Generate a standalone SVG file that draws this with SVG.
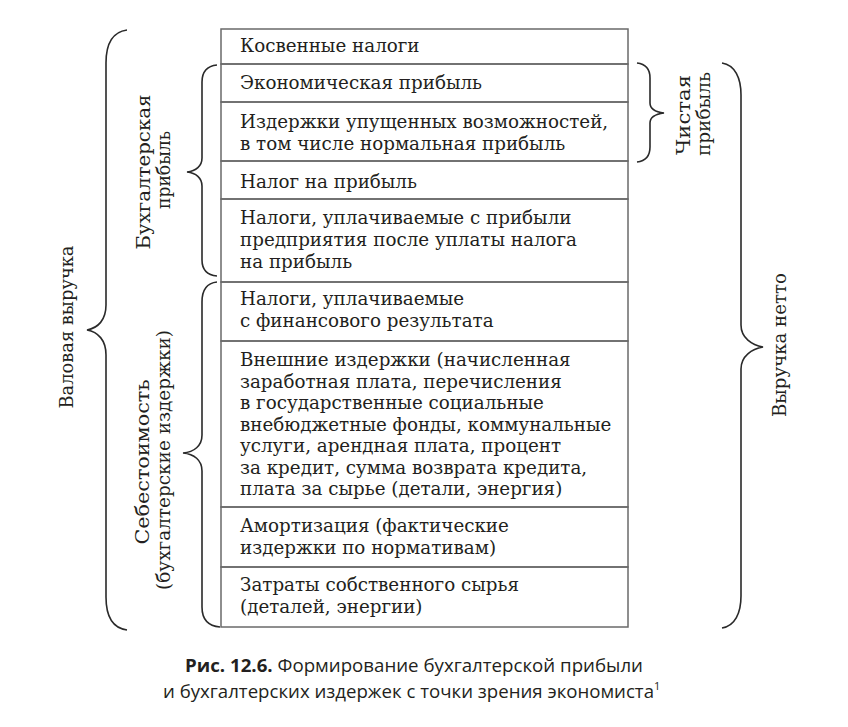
<svg xmlns="http://www.w3.org/2000/svg" width="848" height="727" viewBox="0 0 848 727">
<style>
.t{font-family:"DejaVu Serif","Liberation Serif",serif;font-size:18.3px;fill:#231f20}
.v{font-family:"DejaVu Serif","Liberation Serif",serif;font-size:18.3px;fill:#231f20;text-anchor:middle}
.cap{font-family:"Open Sans","Noto Sans",sans-serif;font-size:18.5px;fill:#231f20}
.row{fill:none;stroke:#6a6a6a;stroke-width:1.5}
.br{fill:none;stroke:#2a2a2a;stroke-width:1.6}
</style>
<rect width="848" height="727" fill="#fff"/>
<g id="table">
<g id="r1"><rect class="row" x="221" y="29" width="407" height="35"/><text class="t" x="240" y="52">Косвенные налоги</text></g>
<g id="r2"><rect class="row" x="221" y="64" width="407" height="38"/><text class="t" x="240" y="89">Экономическая прибыль</text></g>
<g id="r3"><rect class="row" x="221" y="102" width="407" height="59"/><text class="t" x="240" y="128">Издержки упущенных возможностей,</text><text class="t" x="240" y="150">в том числе нормальная прибыль</text></g>
<g id="r4"><rect class="row" x="221" y="161" width="407" height="38"/><text class="t" x="240" y="188">Налог на прибыль</text></g>
<g id="r5"><rect class="row" x="221" y="199" width="407" height="83"/><text class="t" x="240" y="224">Налоги, уплачиваемые с прибыли</text><text class="t" x="240" y="246">предприятия после уплаты налога</text><text class="t" x="240" y="268">на прибыль</text></g>
<g id="r6"><rect class="row" x="221" y="282" width="407" height="59"/><text class="t" x="240" y="305">Налоги, уплачиваемые</text><text class="t" x="240" y="327">с финансового результата</text></g>
<g id="r7"><rect class="row" x="221" y="341" width="407" height="166"/>
<text class="t" x="240" y="366">Внешние издержки (начисленная</text>
<text class="t" x="240" y="387.5">заработная плата, перечисления</text>
<text class="t" x="240" y="409">в государственные социальные</text>
<text class="t" x="240" y="430.5">внебюджетные фонды, коммунальные</text>
<text class="t" x="240" y="452">услуги, арендная плата, процент</text>
<text class="t" x="240" y="473.5">за кредит, сумма возврата кредита,</text>
<text class="t" x="240" y="495">плата за сырье (детали, энергия)</text></g>
<g id="r8"><rect class="row" x="221" y="507" width="407" height="60"/><text class="t" x="240" y="532">Амортизация (фактические</text><text class="t" x="240" y="554">издержки по нормативам)</text></g>
<g id="r9"><rect class="row" x="221" y="567" width="407" height="60"/><text class="t" x="240" y="591">Затраты собственного сырья</text><text class="t" x="240" y="613">(деталей, энергии)</text></g>
</g>
<g id="connectors">
<path class="br" d="M127,30 C112,32 106,45 106,63 L106,305 C106,320 98,328 87,330 C98,332 106,340 106,355 L106,597 C106,615 112,628 127,630"/>
<path class="br" d="M217,65 C207,66 202,72 202,82 L202,158 C202,166 196,171 187,172 C196,173 202,178 202,186 L202,260 C202,270 207,275 217,276"/>
<path class="br" d="M217,282 C207,283 202,290 202,302 L202,435 C202,446 194,452 183,453 C194,454 202,460 202,471 L202,607 C202,619 208,626 220,627"/>
<path class="br" d="M637,63 C646,64 650,70 650,78 L650,103 C650,109 656,112 664,113 C656,114 650,117 650,123 L650,147 C650,155 646,161 637,162"/>
<path class="br" d="M722,63 C735,65 741,78 741,95 L741,325 C741,338 752,345 763,347 C752,349 741,356 741,369 L741,596 C741,613 735,626 722,628"/>
</g>
<g id="lbl-gross"><text class="v" transform="translate(73,327) rotate(-90)" textLength="163" lengthAdjust="spacingAndGlyphs">Валовая выручка</text></g>
<g id="lbl-acc"><text class="v" transform="translate(150,172) rotate(-90)" textLength="155" lengthAdjust="spacingAndGlyphs">Бухгалтерская</text><text class="v" transform="translate(170,170) rotate(-90)" textLength="78" lengthAdjust="spacingAndGlyphs">прибыль</text></g>
<g id="lbl-cost"><text class="v" transform="translate(149,462) rotate(-90)" textLength="165" lengthAdjust="spacingAndGlyphs">Себестоимость</text><text class="v" transform="translate(170,460) rotate(-90)" textLength="260" lengthAdjust="spacingAndGlyphs">(бухгалтерские издержки)</text></g>
<g id="lbl-net"><text class="v" transform="translate(690,115) rotate(-90)" textLength="80" lengthAdjust="spacingAndGlyphs">Чистая</text><text class="v" transform="translate(710,114) rotate(-90)" textLength="84" lengthAdjust="spacingAndGlyphs">прибыль</text></g>
<g id="lbl-netrev"><text class="v" transform="translate(786,345) rotate(-90)" textLength="144" lengthAdjust="spacingAndGlyphs">Выручка нетто</text></g>
<g id="caption">
<text class="cap" x="185" y="672" textLength="458" lengthAdjust="spacingAndGlyphs"><tspan font-weight="bold">Рис. 12.6.</tspan> Формирование бухгалтерской прибыли</text>
<text class="cap" x="163" y="698"><tspan textLength="491" lengthAdjust="spacingAndGlyphs">и бухгалтерских издержек с точки зрения экономиста</tspan><tspan font-size="11" dy="-8">1</tspan></text>
</g>
</svg>
